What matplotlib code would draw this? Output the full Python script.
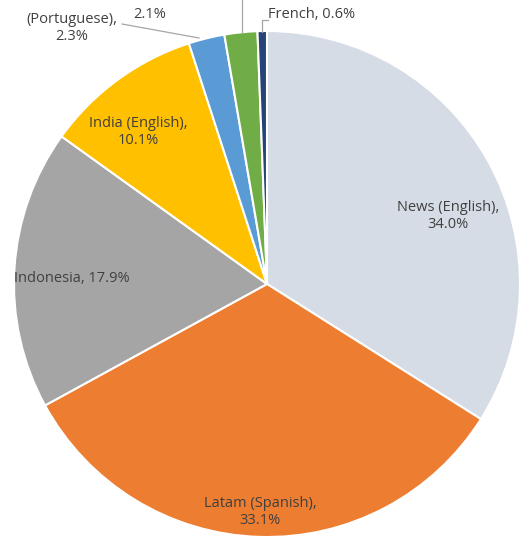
import matplotlib.pyplot as plt

plt.rcParams['font.family'] = ['Open Sans', 'DejaVu Sans']

names = ['News (English)', 'Latam (Spanish)', 'Indonesia', 'India (English)',
         '(Portuguese)', '', 'French']
shares = [34.0, 33.1, 17.9, 10.1, 2.3, 2.1, 0.6]
colors = ['#d6dce5', '#ed7d31', '#a5a5a5', '#ffc000', '#5b9bd5', '#70ad47', '#264478']

W, H = 530, 539
cx, cy, r = 267, 284, 253

fig = plt.figure(figsize=(W / 100, H / 100), dpi=100)
ax = fig.add_axes([0, 0, 1, 1])
ax.pie(shares, colors=colors, startangle=90, counterclock=False, radius=1,
       wedgeprops=dict(edgecolor='white', linewidth=1.5))
ax.set_xlim(-cx / r, (W - cx) / r)
ax.set_ylim(-(H - cy) / r, cy / r)
ax.axis('off')

txt = '#404040'
line_c = '#a6a6a6'


def fx(px):
    return px / W


def fy(py):
    return 1 - py / H


# label positions in pixels (center) and layout
label_pos = [(448, 216, 'center', True), (260, 512, 'center', True),
             (14, 278, 'left', False), (138, 132, 'center', True),
             (72, 28, 'center', True), (150, 15, 'center', True),
             (268, 15, 'left', False)]

for name, val, (px, py, ha, two) in zip(names, shares, label_pos):
    if name == '':
        s = f'{val:.1f}%'
    elif two:
        s = f'{name},\n{val:.1f}%'
    else:
        s = f'{name}, {val:.1f}%'
    fig.text(fx(px), fy(py), s, ha=ha, va='center', color=txt, fontsize=10.5,
             linespacing=1.25, transform=fig.transFigure)

# leader lines
leaders = [([122, 199], [24, 38]), ([242, 242], [0, 32]),
           ([268, 262, 262], [20, 20, 32])]
for xs, ys in leaders:
    fig.add_artist(plt.Line2D([fx(v) for v in xs], [fy(v) for v in ys],
                              color=line_c, lw=0.9, transform=fig.transFigure))

fig.savefig('out.png', dpi=100)
